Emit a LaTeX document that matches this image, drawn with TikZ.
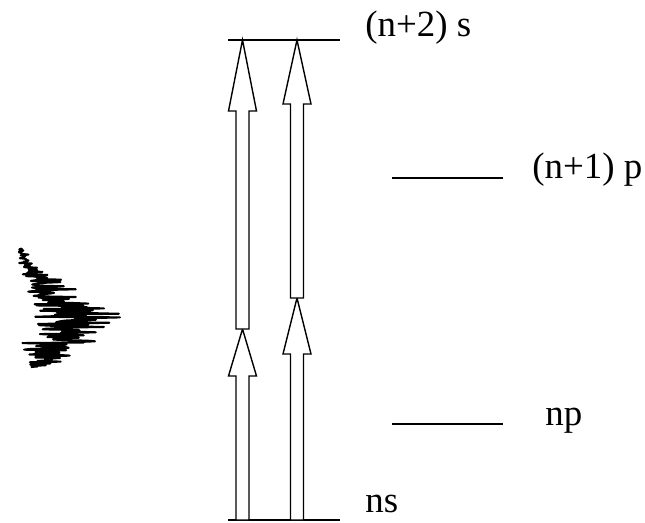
\documentclass[tikz,border=0pt]{standalone}
\usepackage{fontspec}
\setmainfont{Liberation Serif}
\usepackage{tikz}
\usetikzlibrary{positioning, calc}

% hollow two-photon arrow: from, to, head length
\newcommand{\photonarrow}[3]{%
  \draw[hollow] ($(#1)+(-6.5,0)$) -- ($(#2)+(-6.5,#3)$) -- ($(#2)+(-14,#3)$)
    -- (#2) -- ($(#2)+(14,#3)$) -- ($(#2)+(6.5,#3)$) -- ($(#1)+(6.5,0)$) -- cycle;}

\begin{document}
\begin{tikzpicture}[
  x=0.02cm, y=-0.02cm,
  font=\fontsize{21}{25}\selectfont,
  level/.style={line width=0.9pt},
  hollow/.style={line width=0.8pt, fill=white},
  lbl/.style={anchor=base west, inner sep=0pt},
  spectrum/.style={line width=1.2pt, line join=round}
]
  \useasboundingbox (0,0) rectangle (645,522);

  % levels
  \coordinate (s2-l) at (228,40);  \coordinate (s2-r) at (340,40);
  \coordinate (p1-l) at (392,178); \coordinate (p1-r) at (503,178);
  \coordinate (np-l) at (392,424); \coordinate (np-r) at (503,424);
  \coordinate (ns-l) at (228,520); \coordinate (ns-r) at (340,520);
  \draw[level] (s2-l) -- (s2-r);
  \draw[level] (p1-l) -- (p1-r);
  \draw[level] (np-l) -- (np-r);
  \draw[level] (ns-l) -- (ns-r);

  \node[lbl] (s2) at (365,36) {(n+2) s};
  \node[lbl] (p1) at (532,178) {(n+1) p};
  \node[lbl] (np) at (545,425) {np};
  \node[lbl] (ns) at (365,512) {ns};

  % two-photon paths
  \coordinate (baseL) at (242.5,520); \coordinate (virtL) at (242.5,329); \coordinate (topL) at (242.5,40);
  \coordinate (baseR) at (297,520);   \coordinate (virtR) at (297,298);   \coordinate (topR) at (297,40);
  \photonarrow{baseL}{virtL}{47}
  \photonarrow{virtL}{topL}{71}
  \photonarrow{baseR}{virtR}{56}
  \photonarrow{virtR}{topR}{64}

  % laser spectrum
  \pgfmathsetseed{12}
  \draw[spectrum] plot[domain=248:367, samples=200, variable=\t]
    ({18+42*exp(-((\t-320)/ifthenelse(\t<320,42,48))^2)
      + (1.5+1.8*42*exp(-((\t-320)/ifthenelse(\t<320,42,48))^2))*(rnd-0.35)*(0.4+rnd)}, \t);
\end{tikzpicture}
\end{document}
